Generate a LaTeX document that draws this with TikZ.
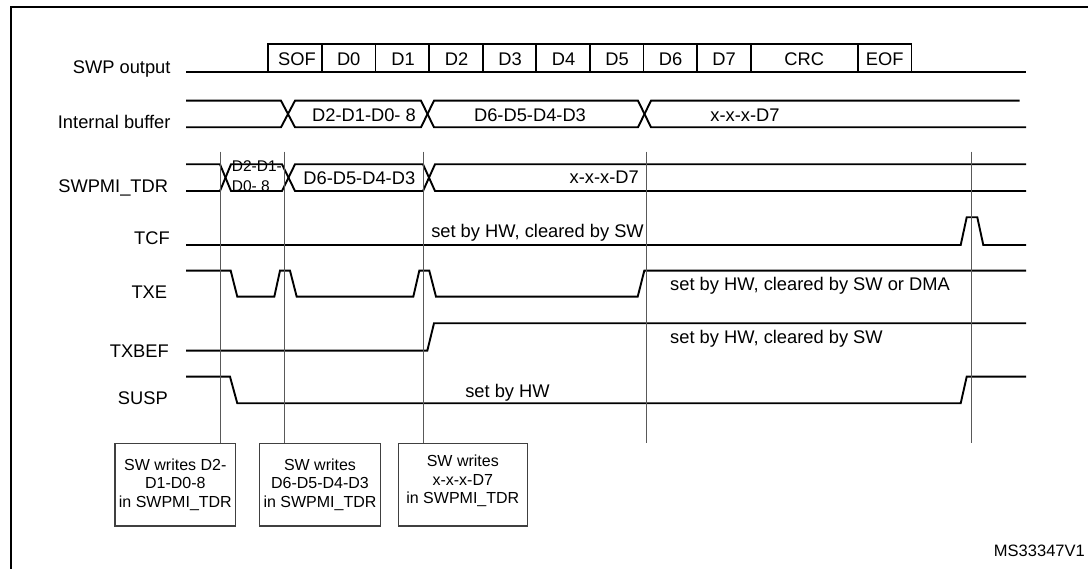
\documentclass[tikz,border=0pt]{standalone}
\usepackage{fontspec}
\setmainfont{Liberation Sans}
\begin{document}
\begin{tikzpicture}[x=1pt,y=-1pt,
  sig/.style={line width=1.9pt, black, line join=miter, line cap=butt},
  frame/.style={line width=2pt, black},
  marker/.style={line width=1pt, black!65},
  lbl/.style={font=\fontsize{18.3}{21}\selectfont, anchor=base east, inner sep=0pt},
  txt/.style={font=\fontsize{18.3}{21}\selectfont, anchor=base, inner sep=0pt},
  smalltxt/.style={font=\fontsize{15.5}{17}\selectfont, anchor=base west, inner sep=0pt},
  note/.style={draw=black!75, line width=1.3pt, font=\fontsize{16}{18.7}\selectfont,
    align=center, inner sep=0pt, minimum height=82.7pt},
  idtxt/.style={font=\fontsize{16.5}{19}\selectfont, anchor=base east, inner sep=0pt}
]
\useasboundingbox (0,0) rectangle (1088,569);
% frame (only left and top edges visible)
\draw[frame] (11,569) -- (11,7.3) -- (1088,7.3);

% signal labels
\node[lbl] (lswp)  at (170.7,73.3)  {SWP output};
\node[lbl] (lib)   at (170.7,128.3) {Internal buffer};
\node[lbl] (ltdr)  at (168.3,192.7) {SWPMI\_TDR};
\node[lbl] (ltcf)  at (170,244.7)   {TCF};
\node[lbl] (ltxe)  at (167.3,298.3) {TXE};
\node[lbl] (ltxbef) at (169,358)    {TXBEF};
\node[lbl] (lsusp) at (168,405)     {SUSP};

% SWP output
\draw[sig] (186,71.7) -- (1026,71.7);
\draw[sig] (268.3,71.7) -- (268.3,44.3) -- (911.5,44.3) -- (911.5,71.7);
\foreach \xx in {321.9,375.5,429.1,482.7,536.3,589.9,643.5,697.1,750.7,857.9}
  \draw[sig] (\xx,44.3) -- (\xx,71.7);
\node[txt] (sof) at (297,65.5) {SOF};
\node[txt] (d0)  at (348.7,65.5) {D0};
\node[txt] (d1)  at (403,65.5) {D1};
\node[txt] (d2)  at (456.5,65.5) {D2};
\node[txt] (d3)  at (510,65.5) {D3};
\node[txt] (d4)  at (563.6,65.5) {D4};
\node[txt] (d5)  at (617,65.5) {D5};
\node[txt] (d6)  at (670.5,65.5) {D6};
\node[txt] (d7)  at (724,65.5) {D7};
\node[txt] (crc) at (804.3,65.5) {CRC};
\node[txt] (eof) at (884.7,65.5) {EOF};

% Internal buffer
\draw[sig] (186,100.7) -- (281,100.7) -- (295,127.3) -- (421,127.3) -- (434,100.7)
  -- (638,100.7) -- (651,127.3) -- (1026,127.3);
\draw[sig] (186,127.3) -- (281,127.3) -- (295,100.7) -- (421,100.7) -- (434,127.3)
  -- (638,127.3) -- (651,100.7) -- (1019.5,100.7);
\node[txt] (ib1) at (364,121.7) {D2-D1-D0- 8};
\node[txt] (ib2) at (530,121.7) {D6-D5-D4-D3};
\node[txt] (ib3) at (745,121.7) {x-x-x-D7};

% SWPMI_TDR
\draw[sig] (186,164.3) -- (220,164.3) -- (231,191) -- (282,191) -- (295,164.3)
  -- (423,164.3) -- (435,191) -- (1026,191);
\draw[sig] (186,191) -- (220,191) -- (231,164.3) -- (282,164.3) -- (295,191)
  -- (423,191) -- (435,164.3) -- (1026,164.3);
\node[smalltxt] (td1a) at (231.7,171.7) {D2-D1-};
\node[smalltxt] (td1b) at (231.7,191.7) {D0- 8};
\node[txt] (td2) at (359.3,185) {D6-D5-D4-D3};
\node[txt,anchor=base east] (td3) at (639,183.3) {x-x-x-D7};

% TCF
\draw[sig] (186,245) -- (960.7,245) -- (966.7,217.3) -- (977.3,217.3) -- (983.3,245) -- (1026,245);
\node[txt,anchor=base east] (tcft) at (644,237.3) {set by HW, cleared by SW};

% TXE
\draw[sig] (186,270.7) -- (230.7,270.7) -- (237.3,296.7) -- (274.3,296.7) -- (280,270.7)
  -- (290,270.7) -- (296.7,296.7) -- (413.3,296.7) -- (419.3,270.7) -- (429.3,270.7)
  -- (436,296.7) -- (637.7,296.7) -- (644.3,270.7) -- (1026,270.7);
\node[txt,anchor=base west] (txet) at (670,290.7) {set by HW, cleared by SW or DMA};

% TXBEF
\draw[sig] (186,350.7) -- (427.3,350.7) -- (434,323.3) -- (1026,323.3);
\node[txt,anchor=base west] (txbeft) at (670,343.3) {set by HW, cleared by SW};

% SUSP
\draw[sig] (186,376.7) -- (230,376.7) -- (237.3,403.3) -- (960.7,403.3) -- (966.7,376.7) -- (1026,376.7);
\node[txt] (suspt) at (507.5,397.3) {set by HW};

% annotation boxes
\node[note, minimum width=120.7pt] (b1) at (175.35,484.65) {SW writes D2-\\D1-D0-8\\in SWPMI\_TDR};
\node[note, minimum width=121.4pt] (b2) at (320,484.65) {SW writes\\D6-D5-D4-D3\\in SWPMI\_TDR};
\node[note, minimum width=129pt] (b3) at (462.8,484.65) {};
\node[font=\fontsize{16}{18.7}\selectfont, align=center, inner sep=0pt] (b3t) at (462.8,481) {SW writes\\x-x-x-D7\\in SWPMI\_TDR};

% event markers
\coordinate (v1) at (220.7,151.7);
\coordinate (v2) at (284,151.7);
\coordinate (v3) at (423.8,151.7);
\coordinate (v4) at (646,151.7);
\coordinate (v5) at (971.7,151.7);
\coordinate (v4e) at (646,443.3);
\coordinate (v5e) at (971.7,443.3);
\draw[marker] (v1) -- (v1 |- b1.north);
\draw[marker] (v2) -- (v2 |- b2.north);
\draw[marker] (v3) -- (v3 |- b3.north);
\draw[marker] (v4) -- (v4e);
\draw[marker] (v5) -- (v5e);

\node[idtxt] (id) at (1085,556.7) {MS33347V1};
\end{tikzpicture}
\end{document}
